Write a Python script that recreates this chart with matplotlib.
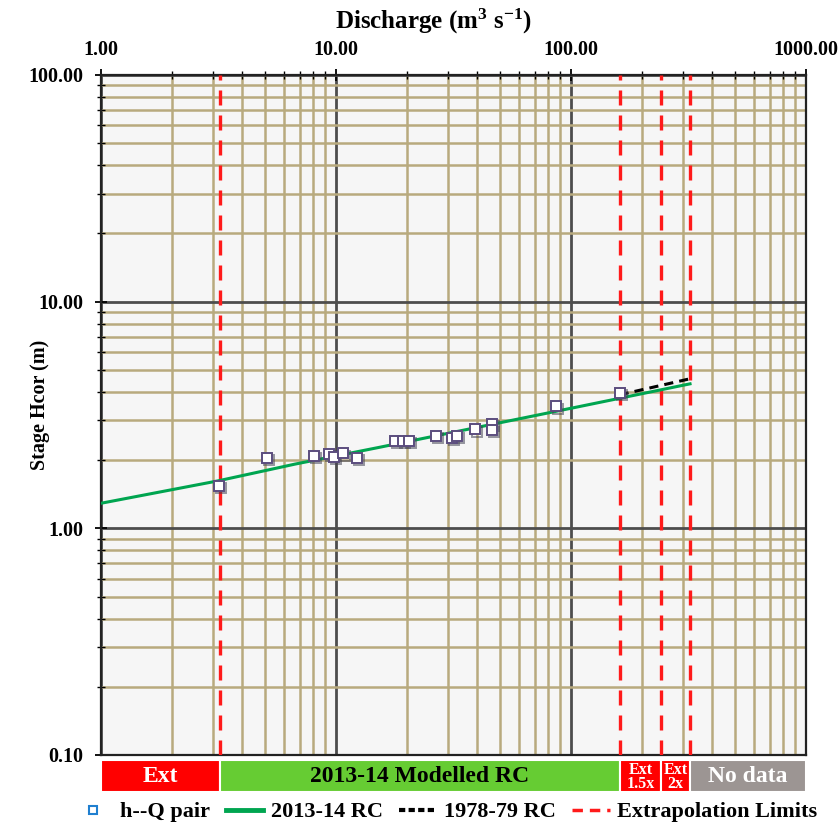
import matplotlib
matplotlib.use("Agg")
import matplotlib.pyplot as plt
import matplotlib.patheffects as pe
from matplotlib.lines import Line2D
from matplotlib.ticker import FixedLocator, NullFormatter, FuncFormatter
import numpy as np

plt.rcParams['font.family'] = ['Liberation Serif', 'DejaVu Serif']
plt.rcParams['font.weight'] = 'bold'
plt.rcParams['mathtext.fontset'] = 'custom'
plt.rcParams['mathtext.rm'] = 'Liberation Serif:bold'
plt.rcParams['mathtext.bf'] = 'Liberation Serif:bold'
plt.rcParams['mathtext.it'] = 'Liberation Serif:bold'

# --- data ---
obs_q = [3.19, 5.07, 8.06, 9.34, 9.81, 10.71, 12.25, 17.83, 19.22, 20.51,
         26.65, 31.07, 32.63, 39.04, 45.98, 45.98, 86.36, 161.6]
obs_h = [1.54, 2.05, 2.08, 2.12, 2.06, 2.14, 2.05, 2.42, 2.42, 2.42,
         2.55, 2.51, 2.55, 2.73, 2.88, 2.71, 3.45, 3.95]

rc2013_q = [1.0, 3.15, 6.69, 15.39, 109.2, 321.0]
rc2013_h = [1.29, 1.62, 1.92, 2.28, 3.45, 4.34]

rc1978_q = [161.0, 321.0]
rc1978_h = [3.88, 4.57]

ext_limits = [3.2, 161.0, 242.0, 321.0]

band_edges = [1.0, 3.2, 161.0, 242.0, 321.0, 1000.0]
band_labels = ["Ext", "2013-14 Modelled RC", "Ext\n1.5x", "Ext\n2x", "No data"]
band_colors = ["#ff0000", "#66cc33", "#ff0000", "#ff0000", "#9c9593"]
band_text_colors = ["white", "black", "white", "white", "white"]

x_ticks = [1, 10, 100, 1000]
y_ticks = [0.1, 1, 10, 100]

# --- figure ---
W, H = 840, 824
fig = plt.figure(figsize=(W / 100, H / 100), dpi=100)
left, right, top, bottom = 101 / W, 806 / W, 1 - 75 / H, 1 - 755 / H
ax = fig.add_axes([left, bottom, right - left, top - bottom])
ax.set_facecolor("#f6f6f6")
ax.set_xscale("log")
ax.set_yscale("log")
ax.set_xlim(1, 1000)
ax.set_ylim(0.1, 100)

minor = lambda lo, hi: [m * 10.0 ** e for e in range(lo, hi) for m in range(2, 10)]
ax.xaxis.set_major_locator(FixedLocator(x_ticks))
ax.xaxis.set_minor_locator(FixedLocator(minor(0, 3)))
ax.yaxis.set_major_locator(FixedLocator(y_ticks))
ax.yaxis.set_minor_locator(FixedLocator(minor(-1, 2)))
fmt = FuncFormatter(lambda v, p: f"{v:.2f}")
ax.xaxis.set_major_formatter(fmt)
ax.yaxis.set_major_formatter(fmt)
ax.xaxis.set_minor_formatter(NullFormatter())
ax.yaxis.set_minor_formatter(NullFormatter())

ax.xaxis.tick_top()
ax.xaxis.set_label_position("top")
ax.tick_params(axis="both", which="major", direction="inout", length=8, width=1.3,
               labelsize=14.5, colors="black")
ax.tick_params(axis="both", which="minor", direction="inout", length=6, width=1.0)
ax.tick_params(axis="x", which="both", top=True, bottom=False, pad=7)
ax.tick_params(axis="y", which="both", left=True, right=False, pad=9)

ax.grid(True, which="minor", color="#b8aa7e", lw=1.8, zorder=0)
ax.grid(True, which="major", color="#4d4d4d", lw=2.0, zorder=0)
ax.set_axisbelow(True)
for s in ax.spines.values():
    s.set_linewidth(1.6)
    s.set_color("#222222")

ax.set_xlabel(r"Discharge (m$^{3}$ s$^{-1}$)", fontsize=18, fontweight="bold")
ax.xaxis.set_label_coords((433 - 101) / 705, 1 + (75 - 21) / 680)
ax.xaxis.label.set_va("center")
ax.set_ylabel("Stage Hcor (m)", fontsize=14.5, fontweight="bold")
ax.yaxis.set_label_coords((40 - 101) / 705, (755 - 405) / 680)
ax.yaxis.label.set_va("center")

# extrapolation limits
for q in ext_limits:
    ax.axvline(q, color="#ff1a1a", lw=2.4, dashes=(4.5, 3), zorder=3)

# rating curves
ax.plot(rc2013_q, rc2013_h, color="#00a550", lw=2.2, zorder=4)
ax.plot(rc1978_q, rc1978_h, color="black", lw=2.2, dashes=(3, 2), zorder=4)

# observations
ax.plot(obs_q, obs_h, ls="none", marker="s", ms=7.2, mfc="white", mec="#5b4d7e",
        mew=1.4, zorder=5,
        path_effects=[pe.SimpleLineShadow(offset=(1.5, -1.5), shadow_color="#444455", alpha=0.55),
                      pe.Normal()])

# band below axes
bax = fig.add_axes([left, 1 - 792 / H, right - left, 32 / H])
bax.set_xscale("log")
bax.set_xlim(1, 1000)
bax.set_ylim(0, 1)
bax.axis("off")
for i in range(len(band_labels)):
    a, b = band_edges[i], band_edges[i + 1]
    bax.axvspan(a, b, color=band_colors[i], ec="white", lw=1.5)
    xc = np.sqrt(a * b)
    nl = "\n" in band_labels[i]
    bax.text(xc, 0.47, band_labels[i], ha="center", va="center",
             color=band_text_colors[i], fontsize=11.5 if nl else 17,
             fontweight="bold", linespacing=0.8)

# legend
handles = [
    Line2D([], [], ls="none", marker="s", ms=6, mfc="white", mec="#1f7fd0", mew=1.5),
    Line2D([], [], color="#00a550", lw=3.5),
    Line2D([], [], color="black", lw=3, dashes=(1.5, 0.8)),
    Line2D([], [], color="#ff1a1a", lw=2.5, dashes=(3, 2)),
]
labels = ["h--Q pair", "2013-14 RC", "1978-79 RC", "Extrapolation Limits"]
fig.legend(handles, labels, loc="center", bbox_to_anchor=(0.531, 1 - 812 / H), ncol=4,
           frameon=False, fontsize=16, handlelength=1.7, handletextpad=0.35,
           columnspacing=0.7, borderaxespad=0)

fig.savefig("out.png", dpi=100)
